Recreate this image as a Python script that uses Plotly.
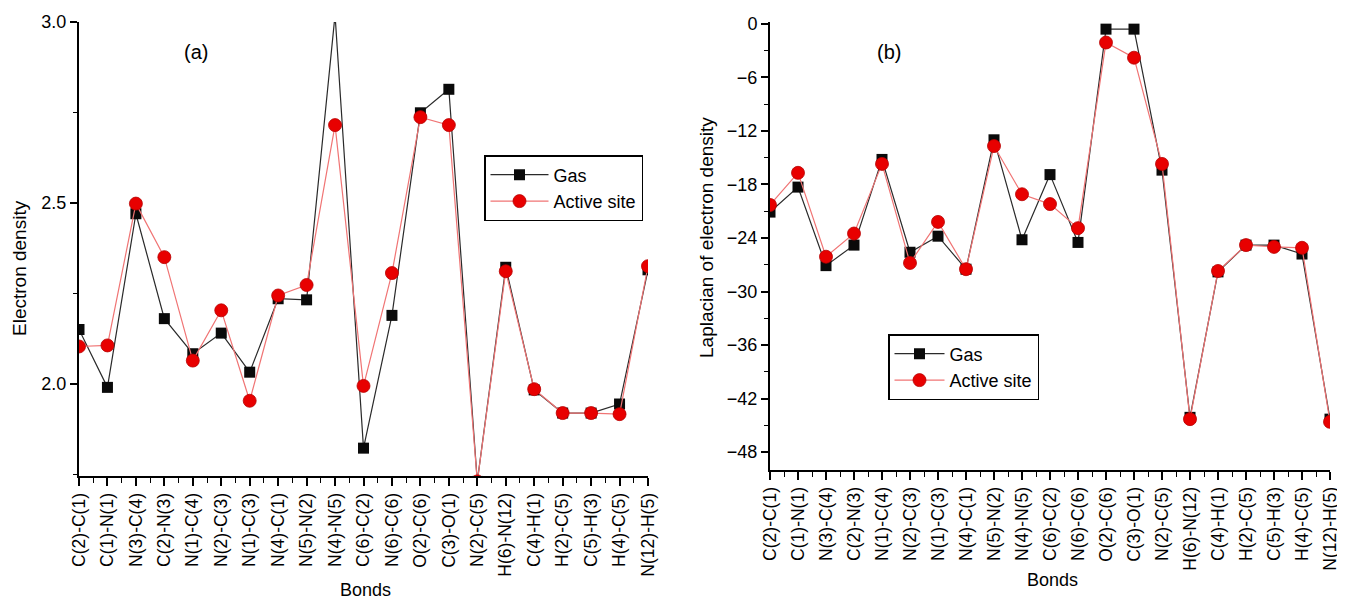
import plotly.graph_objects as go

bonds = ["C(2)-C(1)", "C(1)-N(1)", "N(3)-C(4)", "C(2)-N(3)", "N(1)-C(4)", "N(2)-C(3)",
         "N(1)-C(3)", "N(4)-C(1)", "N(5)-N(2)", "N(4)-N(5)", "C(6)-C(2)", "N(6)-C(6)",
         "O(2)-C(6)", "C(3)-O(1)", "N(2)-C(5)", "H(6)-N(12)", "C(4)-H(1)", "H(2)-C(5)",
         "C(5)-H(3)", "H(4)-C(5)", "N(12)-H(5)"]

gas_density = [2.15, 1.99, 2.47, 2.18, 2.083, 2.14, 2.032, 2.235, 2.232, 3.02, 1.822,
               2.189, 2.749, 2.814, 1.73, 2.322, 1.983, 1.919, 1.919, 1.944, 2.315]
active_density = [2.103, 2.106, 2.498, 2.35, 2.064, 2.203, 1.953, 2.244, 2.273, 2.715, 1.994,
                  2.306, 2.737, 2.715, 1.73, 2.311, 1.985, 1.919, 1.919, 1.916, 2.325]

gas_laplacian = [-21.1, -18.3, -27.1, -24.8, -15.2, -25.6, -23.8, -27.5, -13.0, -24.2, -16.9,
                 -24.5, -0.6, -0.6, -16.4, -44.1, -27.8, -24.8, -24.8, -25.8, -44.3]
active_laplacian = [-20.3, -16.7, -26.1, -23.5, -15.7, -26.8, -22.2, -27.5, -13.7, -19.1, -20.2,
                    -22.9, -2.1, -3.8, -15.7, -44.3, -27.7, -24.8, -25.0, -25.1, -44.6]

# page body has an 8 px margin; figure fills the rest of the 1345x601 window
OFF = 8
W, H = 1345 - OFF, 601 - OFF
FONT = "Liberation Sans, Arial, sans-serif"


def px(xr):
    return (xr - OFF) / W


def py(yr):
    return 1 - (yr - OFF) / H


x = list(range(len(bonds)))

GAS_LINE = "#2a2a2a"
ACT_LINE = "#f07474"
ACT_FILL = "#e80000"

fig = go.Figure()

for xa, ya, lg, g_vals, a_vals in [("x", "y", "legend", gas_density, active_density),
                                   ("x2", "y2", "legend2", gas_laplacian, active_laplacian)]:
    fig.add_trace(go.Scatter(x=x, y=g_vals, name="Gas", mode="lines+markers",
                             line=dict(color=GAS_LINE, width=1.2),
                             marker=dict(symbol="square", size=11, color="#0a0a0a"),
                             xaxis=xa, yaxis=ya, legend=lg))
    fig.add_trace(go.Scatter(x=x, y=a_vals, name="Active site", mode="lines+markers",
                             line=dict(color=ACT_LINE, width=1.2),
                             marker=dict(symbol="circle", size=13, color=ACT_FILL,
                                         line=dict(color="#b80000", width=0.8)),
                             xaxis=xa, yaxis=ya, legend=lg))


def xaxis_cfg(domain, anchor):
    return dict(domain=domain, anchor=anchor, range=[0, len(bonds) - 1],
                tickmode="array", tickvals=x, ticktext=bonds, tickangle=-90,
                ticks="outside", ticklen=8, tickwidth=1.5, tickcolor="black",
                minor=dict(dtick=0.5, tick0=0, ticks="outside", ticklen=5,
                           tickwidth=1, tickcolor="black"),
                showline=True, linecolor="black", linewidth=2, showgrid=False,
                zeroline=False, automargin=False,
                tickfont=dict(family=FONT, size=17.5, color="black"))


def yaxis_cfg(domain, anchor, rng, dtick, minor_dtick, fmt):
    return dict(domain=domain, anchor=anchor, range=rng, dtick=dtick, tickformat=fmt,
                ticks="outside", ticklen=7, tickwidth=1.5, tickcolor="black",
                minor=dict(dtick=minor_dtick, ticks="outside", ticklen=4,
                           tickwidth=1, tickcolor="black"),
                showline=True, linecolor="black", linewidth=2, showgrid=False,
                zeroline=False, automargin=False,
                tickfont=dict(family=FONT, size=18, color="black"))


def note(text, xr, yr, size, angle=0):
    return dict(text=text, x=px(xr), y=py(yr), xref="paper", yref="paper",
                xanchor="center", yanchor="middle", textangle=angle,
                showarrow=False, font=dict(family=FONT, size=size, color="black"))


legend_style = dict(xanchor="left", yanchor="top", bordercolor="black", borderwidth=1.5,
                    bgcolor="white", font=dict(family=FONT, size=18, color="black"),
                    tracegroupgap=0)

fig.update_layout(
    width=W, height=H,
    margin=dict(l=0, r=0, t=0, b=0),
    paper_bgcolor="white", plot_bgcolor="white",
    font=dict(family=FONT, size=18, color="black"),
    xaxis=xaxis_cfg([px(79), px(648)], "y"),
    yaxis=yaxis_cfg([py(476), py(22)], "x", [1.745, 3.0], 0.5, 0.25, ".1f"),
    xaxis2=xaxis_cfg([px(770), px(1330)], "y2"),
    yaxis2=yaxis_cfg([py(470), py(22)], "x2", [-50, 0.2], 6, 3, "d"),
    legend=dict(x=px(484), y=py(155), itemwidth=58, **legend_style),
    legend2=dict(x=px(888), y=py(334), itemwidth=50, **legend_style),
    annotations=[
        note("(a)", 196, 52, 20),
        note("(b)", 889, 52, 20),
        note("Electron density", 19, 268, 19, -90),
        note("Laplacian of electron density", 706, 238, 19, -90),
        note("Bonds", 365, 590, 18),
        note("Bonds", 1052, 580, 18),
    ],
)

fig.write_html("out.html")
